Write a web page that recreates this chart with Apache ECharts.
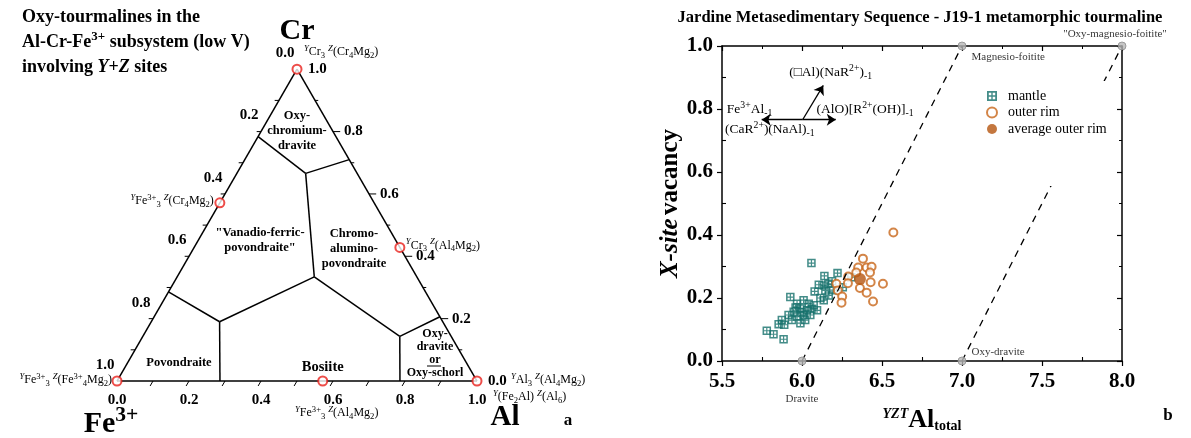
<!DOCTYPE html>
<html>
<head>
<meta charset="utf-8">
<script src="https://cdn.jsdelivr.net/npm/echarts@6/dist/echarts.min.js"></script>
<style>
  html, body { margin: 0; padding: 0; background: #fff; }
  #main { width: 1191px; height: 438px; }
</style>
</head>
<body>
<div id="main"></div>
<script>
var SERIF = '"Liberation Serif", "Times New Roman", serif'
var S3 = Math.sqrt(3) / 2

// ---------- panel a : ternary, compositions as [Al, Cr]  (Fe3+ = 1 - Al - Cr) ----------
var vertexFe = [0, 0]
var vertexAl = [1, 0]
var vertexCr = [0, 1]
var endMembers = [[0, 1], [0, 4 / 7], [4 / 7, 3 / 7], [4 / 7, 0], [0, 0], [1, 0]]
var fieldBoundaries = [
  [[0, 0.784], [0.191, 0.666], [0.29, 0.71]],
  [[0.191, 0.666], [0.381, 0.334]],
  [[0, 0.286], [0.19, 0.19], [0.381, 0.334]],
  [[0.19, 0.19], [0.286, 0]],
  [[0.381, 0.334], [0.714, 0.143]],
  [[0.714, 0.143], [0.786, 0]],
  [[0.714, 0.143], [0.794, 0.206]]
]
var ternTickSteps = [0.1, 0.2, 0.3, 0.4, 0.5, 0.6, 0.7, 0.8, 0.9]
var ternLabelValues = [0, 0.2, 0.4, 0.6, 0.8, 1.0]

// ---------- panel b : X-site vacancy vs YZT Al total ----------
var mantle = [
  [6.059, 0.311], [6.140, 0.270], [6.222, 0.279], [6.188, 0.253], [6.255, 0.234], [6.308, 0.266],
  [6.105, 0.242], [6.136, 0.240], [6.165, 0.245], [6.079, 0.221], [6.146, 0.224], [6.167, 0.208],
  [6.136, 0.193], [6.195, 0.225], [5.927, 0.203], [6.010, 0.193], [5.969, 0.182], [6.042, 0.182],
  [6.073, 0.177], [5.990, 0.167], [6.031, 0.161], [5.948, 0.156], [6.094, 0.161], [6.060, 0.165],
  [5.916, 0.146], [5.969, 0.141], [6.010, 0.146], [5.937, 0.130], [6.052, 0.146], [5.990, 0.120],
  [5.874, 0.130], [5.854, 0.117], [5.889, 0.115], [5.780, 0.096], [5.822, 0.085], [5.885, 0.069],
  [6.000, 0.155], [5.960, 0.170], [6.115, 0.200], [6.020, 0.130]
]
var outerRim = [
  [6.571, 0.408], [6.381, 0.325], [6.351, 0.297], [6.404, 0.297], [6.435, 0.299], [6.425, 0.281],
  [6.339, 0.281], [6.289, 0.268], [6.287, 0.247], [6.215, 0.245], [6.224, 0.224], [6.362, 0.232],
  [6.429, 0.250], [6.506, 0.245], [6.404, 0.217], [6.251, 0.205], [6.247, 0.185], [6.444, 0.189]
]
var averageOuterRim = [[6.362, 0.260]]
var refPoints = [[6, 0], [7, 1], [7, 0], [8, 1]]
var refNames = ['Dravite', 'Magnesio-foitite', 'Oxy-dravite', '"Oxy-magnesio-foitite"']
var idealLines = [[[6, 0], [7, 1]], [[7, 0], [8, 1]]]
var vectorOrigin = [6.004, 0.766]
var vectorTips = [[5.748, 0.766], [6.211, 0.766], [6.133, 0.875]]

function tern(c) {
  return [c[0] + c[1] / 2, c[1] * S3]
}

function addPath(list, pts) {
  for (var i = 0; i < pts.length - 1; i++) {
    var a = tern(pts[i]), b = tern(pts[i + 1])
    list.push([a[0], a[1], b[0], b[1]])
  }
}

var frameSegs = []
addPath(frameSegs, [vertexFe, vertexAl, vertexCr, vertexFe])
fieldBoundaries.forEach(function (p) { addPath(frameSegs, p) })

var tickSegs = []
ternTickSteps.forEach(function (v) {
  var p = tern([v, 0])
  tickSegs.push([p[0], p[1], p[0] - 0.5 * 0.016, p[1] - S3 * 0.016])
  p = tern([0, 1 - v])
  tickSegs.push([p[0], p[1], p[0] - 0.012, p[1]])
  p = tern([1 - v, v])
  var major = Math.round(v * 10) % 2 === 0
  tickSegs.push([p[0], p[1], p[0] + (major ? 0.02 : 0.009), p[1]])
})

function segRender(width) {
  return function (params, api) {
    var p1 = api.coord([api.value(0), api.value(1)])
    var p2 = api.coord([api.value(2), api.value(3)])
    return {
      type: 'line',
      shape: { x1: p1[0], y1: p1[1], x2: p2[0], y2: p2[1] },
      style: { stroke: '#000', lineWidth: width }
    }
  }
}

function richSet(size, weight) {
  var base = { fontFamily: SERIF, fontWeight: weight, fill: '#000', color: '#000' }
  return {
    it: Object.assign({}, base, { fontSize: size, fontStyle: 'italic' }),
    si: Object.assign({}, base, { fontSize: size * 0.72, fontStyle: 'italic', verticalAlign: 'top' }),
    sp: Object.assign({}, base, { fontSize: size * 0.72, verticalAlign: 'top' }),
    sb: Object.assign({}, base, { fontSize: size * 0.72, verticalAlign: 'bottom' })
  }
}

function txt(x, y, text, o) {
  o = o || {}
  var size = o.size || 12
  var weight = o.weight || 'normal'
  return {
    type: 'text', x: x, y: y, silent: true, z: 100,
    style: {
      text: text, fill: '#000', fontFamily: SERIF, fontSize: size, fontWeight: weight,
      fontStyle: o.italic ? 'italic' : 'normal',
      align: o.align || 'left', verticalAlign: o.valign || 'middle',
      lineHeight: o.lh || Math.round(size * 1.3),
      rich: richSet(size, weight)
    }
  }
}

var tickLabelStyle = { color: '#000', fontFamily: SERIF, fontWeight: 'bold', fontSize: 21 }
var axisLineStyle = { color: '#000', width: 1.5 }

var chart = echarts.init(document.getElementById('main'))

var option = {
  animation: false,
  backgroundColor: '#fff',
  grid: [
    { left: 117, top: 69.23, width: 360, height: 311.77 },
    { left: 722, top: 46, width: 400, height: 320.5 }
  ],
  xAxis: [
    { gridIndex: 0, type: 'value', min: 0, max: 1, show: false },
    {
      gridIndex: 1, type: 'value', min: 5.5, max: 8, interval: 0.5,
      axisLine: { show: true, onZero: false, lineStyle: axisLineStyle },
      axisTick: { show: true, length: 5, lineStyle: { color: '#000', width: 1.2 } },
      splitLine: { show: false },
      axisLabel: Object.assign({ margin: 10, showMinLabel: true, showMaxLabel: true,
        formatter: function (v) { return v.toFixed(1) } }, tickLabelStyle),
      name: '{s|YZT}{a|Al}{t|total}',
      nameLocation: 'middle',
      nameGap: 46,
      nameTextStyle: {
        rich: {
          s: { fontFamily: SERIF, fontSize: 14, fontWeight: 'bold', fontStyle: 'italic', color: '#000', verticalAlign: 'top' },
          a: { fontFamily: SERIF, fontSize: 26, fontWeight: 'bold', color: '#000' },
          t: { fontFamily: SERIF, fontSize: 14, fontWeight: 'bold', color: '#000', verticalAlign: 'bottom' }
        }
      }
    },
    {
      gridIndex: 1, type: 'value', position: 'top', min: 5.5, max: 8, interval: 0.5,
      axisLine: { show: true, onZero: false, lineStyle: axisLineStyle },
      axisTick: { show: true, inside: true, length: 5, lineStyle: { color: '#000', width: 1.2 } },
      minorTick: { show: true, splitNumber: 2, length: 3, lineStyle: { color: '#000' } },
      axisLabel: { show: false },
      splitLine: { show: false }
    },
    {
      gridIndex: 1, type: 'value', position: 'bottom', min: 5.5, max: 8, interval: 0.5,
      axisLine: { show: false },
      axisTick: { show: false, inside: true },
      minorTick: { show: true, splitNumber: 2, length: 4, lineStyle: { color: '#000', width: 1.1 } },
      axisLabel: { show: false },
      splitLine: { show: false }
    }
  ],
  yAxis: [
    { gridIndex: 0, type: 'value', min: 0, max: S3, show: false },
    {
      gridIndex: 1, type: 'value', min: 0, max: 1, interval: 0.2,
      axisLine: { show: true, onZero: false, lineStyle: axisLineStyle },
      axisTick: { show: true, length: 5, lineStyle: { color: '#000', width: 1.2 } },
      splitLine: { show: false },
      axisLabel: Object.assign({ margin: 9, showMinLabel: true, showMaxLabel: true,
        formatter: function (v) { return v.toFixed(1) } }, tickLabelStyle),
      name: '{i|X-site} {b|vacancy}',
      nameLocation: 'middle',
      nameRotate: 90,
      nameGap: 39,
      nameTextStyle: {
        rich: {
          i: { fontFamily: SERIF, fontSize: 25, fontWeight: 'bold', fontStyle: 'italic', color: '#000' },
          b: { fontFamily: SERIF, fontSize: 25, fontWeight: 'bold', color: '#000' }
        }
      }
    },
    {
      gridIndex: 1, type: 'value', position: 'right', min: 0, max: 1, interval: 0.2,
      axisLine: { show: true, onZero: false, lineStyle: axisLineStyle },
      axisTick: { show: true, inside: true, length: 5, lineStyle: { color: '#000', width: 1.2 } },
      minorTick: { show: true, splitNumber: 2, length: 3, lineStyle: { color: '#000' } },
      axisLabel: { show: false },
      splitLine: { show: false }
    },
    {
      gridIndex: 1, type: 'value', position: 'left', min: 0, max: 1, interval: 0.2,
      axisLine: { show: false },
      axisTick: { show: false, inside: true },
      minorTick: { show: true, splitNumber: 2, length: 4, lineStyle: { color: '#000', width: 1.1 } },
      axisLabel: { show: false },
      splitLine: { show: false }
    }
  ],
  legend: {
    data: ['mantle', 'outer rim', 'average outer rim'],
    orient: 'vertical',
    left: 978,
    top: 81,
    padding: [8, 8, 50, 8],
    backgroundColor: '#fff',
    itemWidth: 10,
    itemHeight: 10,
    itemGap: 2.5,
    textStyle: { fontFamily: SERIF, fontSize: 14, color: '#000', padding: [0, 0, 0, 6] }
  },
  series: [
    {
      type: 'custom', name: 'ternary frame', xAxisIndex: 0, yAxisIndex: 0, clip: false,
      encode: { x: [0, 2], y: [1, 3] }, renderItem: segRender(1.5), data: frameSegs
    },
    {
      type: 'custom', name: 'ternary ticks', xAxisIndex: 0, yAxisIndex: 0, clip: false,
      encode: { x: [0, 2], y: [1, 3] }, renderItem: segRender(1), data: tickSegs
    },
    {
      type: 'scatter', name: 'end members', xAxisIndex: 0, yAxisIndex: 0, z: 5,
      symbol: 'emptyCircle', symbolSize: 9,
      itemStyle: { color: '#e8211c', borderWidth: 1.6 },
      data: endMembers.map(tern)
    }
  ].concat(idealLines.map(function (l) {
    return {
      type: 'line', name: 'ideal', xAxisIndex: 1, yAxisIndex: 1, symbol: 'none',
      lineStyle: { color: '#000', width: 1.3, type: [7, 6] }, data: l
    }
  })).concat([
    {
      type: 'lines', name: 'vectors', coordinateSystem: 'cartesian2d', xAxisIndex: 1, yAxisIndex: 1,
      symbol: ['none', 'arrow'], symbolSize: [0, 9],
      lineStyle: { color: '#000', width: 1.3, opacity: 1 },
      data: vectorTips.map(function (t) { return { coords: [vectorOrigin, t] } })
    },
    {
      type: 'scatter', name: 'mantle', xAxisIndex: 1, yAxisIndex: 1,
      symbol: 'path://M0 0H10V10H0Z M1.8 1.8V4.3H4.3V1.8Z M5.7 1.8V4.3H8.2V1.8Z M1.8 5.7V8.2H4.3V5.7Z M5.7 5.7V8.2H8.2V5.7Z',
      symbolSize: 8.5,
      itemStyle: { color: '#15706b' }, data: mantle
    },
    {
      type: 'scatter', name: 'outer rim', xAxisIndex: 1, yAxisIndex: 1,
      symbol: 'emptyCircle', symbolSize: 8,
      itemStyle: { color: '#c8661a', borderWidth: 1.5 }, data: outerRim
    },
    {
      type: 'scatter', name: 'average outer rim', xAxisIndex: 1, yAxisIndex: 1,
      symbol: 'circle', symbolSize: 12,
      itemStyle: { color: '#b5550f' }, data: averageOuterRim
    },
    {
      type: 'scatter', name: 'reference', xAxisIndex: 1, yAxisIndex: 1, z: 6, symbolSize: 8,
      itemStyle: { color: '#b8b8b8', borderColor: '#8c8c8c', borderWidth: 1 },
      label: { show: true, formatter: '{b}', fontFamily: SERIF, fontSize: 11, color: '#000' },
      data: refPoints.map(function (p, i) {
        var pos = [
          { position: 'bottom', distance: 28 },
          { position: 'right', offset: [0, 11] },
          { position: 'right', offset: [0, -9] },
          { position: 'top', distance: 2, offset: [-7, 0] }
        ][i]
        return { value: p, name: refNames[i], label: pos }
      })
    }
  ])
}

chart.setOption(option)

function pa(c) { return chart.convertToPixel({ gridIndex: 0 }, tern(c)) }
function pb(v) { return chart.convertToPixel({ gridIndex: 1 }, v) }

var g = []
// panel a title and vertex names
g.push(txt(22, 5, 'Oxy-tourmalines in the\nAl-Cr-Fe{sp|3+} subsystem (low V)\ninvolving {it|Y}+{it|Z} sites',
  { size: 18, weight: 'bold', valign: 'top', lh: 25 }))
var pCr = pa(vertexCr), pFe = pa(vertexFe), pAl = pa(vertexAl)
g.push(txt(pCr[0], pCr[1] - 38, 'Cr', { size: 30, weight: 'bold', align: 'center' }))
g.push(txt(pFe[0] - 6, pFe[1] + 43, 'Fe{sp|3+}', { size: 30, weight: 'bold', align: 'center' }))
g.push(txt(pAl[0] + 28, pAl[1] + 37, 'Al', { size: 29, weight: 'bold', align: 'center' }))
g.push(txt(568, 421, 'a', { size: 17, weight: 'bold', align: 'center' }))

// ternary tick labels
ternLabelValues.forEach(function (v) {
  var s = v.toFixed(1)
  var p = pa([v, 0])
  g.push(txt(p[0], p[1] + 19, s, { size: 15, weight: 'bold', align: 'center' }))
  p = pa([0, 1 - v])
  g.push(txt(p[0] - 12, p[1] - 16, s, { size: 15, weight: 'bold', align: 'center' }))
  p = pa([1 - v, v])
  g.push(txt(p[0] + 11, p[1], s, { size: 15, weight: 'bold', align: 'left' }))
})

// end-member labels
var em = endMembers.map(pa)
g.push(txt(em[0][0] + 7, em[0][1] - 17, '{si|Y}Cr{sb|3} {si|Z}(Cr{sb|4}Mg{sb|2})', { size: 12 }))
g.push(txt(em[1][0] - 6, em[1][1] - 2, '{si|Y}Fe{sp|3+}{sb|3} {si|Z}(Cr{sb|4}Mg{sb|2})', { size: 12, align: 'right' }))
g.push(txt(em[2][0] + 6, em[2][1] - 2, '{si|Y}Cr{sb|3} {si|Z}(Al{sb|4}Mg{sb|2})', { size: 12 }))
g.push(txt(em[4][0] - 5, em[4][1] - 1, '{si|Y}Fe{sp|3+}{sb|3} {si|Z}(Fe{sp|3+}{sb|4}Mg{sb|2})', { size: 12, align: 'right' }))
g.push(txt(em[5][0] + 34, em[5][1] - 1, '{si|Y}Al{sb|3} {si|Z}(Al{sb|4}Mg{sb|2})', { size: 12 }))
g.push(txt(em[5][0] + 16, em[5][1] + 16, '{si|Y}(Fe{sb|2}Al) {si|Z}(Al{sb|6})', { size: 12 }))
g.push(txt(em[3][0] + 14, em[3][1] + 32, '{si|Y}Fe{sp|3+}{sb|3} {si|Z}(Al{sb|4}Mg{sb|2})', { size: 12, align: 'center' }))

// field names
g.push(txt(297, 108, 'Oxy-\nchromium-\ndravite', { size: 12.5, weight: 'bold', align: 'center', valign: 'top', lh: 15 }))
g.push(txt(260, 225, '"Vanadio-ferric-\npovondraite"', { size: 12.5, weight: 'bold', align: 'center', valign: 'top', lh: 15 }))
g.push(txt(354, 226, 'Chromo-\nalumino-\npovondraite', { size: 12.5, weight: 'bold', align: 'center', valign: 'top', lh: 15 }))
g.push(txt(179, 363, 'Povondraite', { size: 12.5, weight: 'bold', align: 'center' }))
g.push(txt(em[3][0], em[3][1] - 14, 'Bosiite', { size: 14.5, weight: 'bold', align: 'center' }))
g.push(txt(435, 327, 'Oxy-\ndravite\nor\nOxy-schorl', { size: 12, weight: 'bold', align: 'center', valign: 'top', lh: 13 }))
g.push({ type: 'line', silent: true, z: 100, shape: { x1: 427, y1: 366, x2: 441, y2: 366 }, style: { stroke: '#000', lineWidth: 1 } })

// panel b title, vectors, panel letter
g.push(txt(920, 18, 'Jardine Metasedimentary Sequence - J19-1 metamorphic tourmaline', { size: 16.5, weight: 'bold', align: 'center' }))
var a1 = pb([5.92, 0.916]), a2 = pb([5.53, 0.8]), a3 = pb([6.09, 0.8]), a4 = pb([5.519, 0.734])
g.push(txt(a1[0], a1[1], '(\u25A1Al)(NaR{sp|2+}){sb|-1}', { size: 13.5 }))
g.push(txt(a2[0], a2[1], 'Fe{sp|3+}Al{sb|-1}', { size: 13.5 }))
g.push(txt(a3[0], a3[1], '(AlO)[R{sp|2+}(OH)]{sb|-1}', { size: 13.5 }))
g.push(txt(a4[0], a4[1], '(CaR{sp|2+})(NaAl){sb|-1}', { size: 13.5 }))
g.push(txt(1168, 416, 'b', { size: 17, weight: 'bold', align: 'center' }))

chart.setOption({ graphic: g })
</script>
</body>
</html>
